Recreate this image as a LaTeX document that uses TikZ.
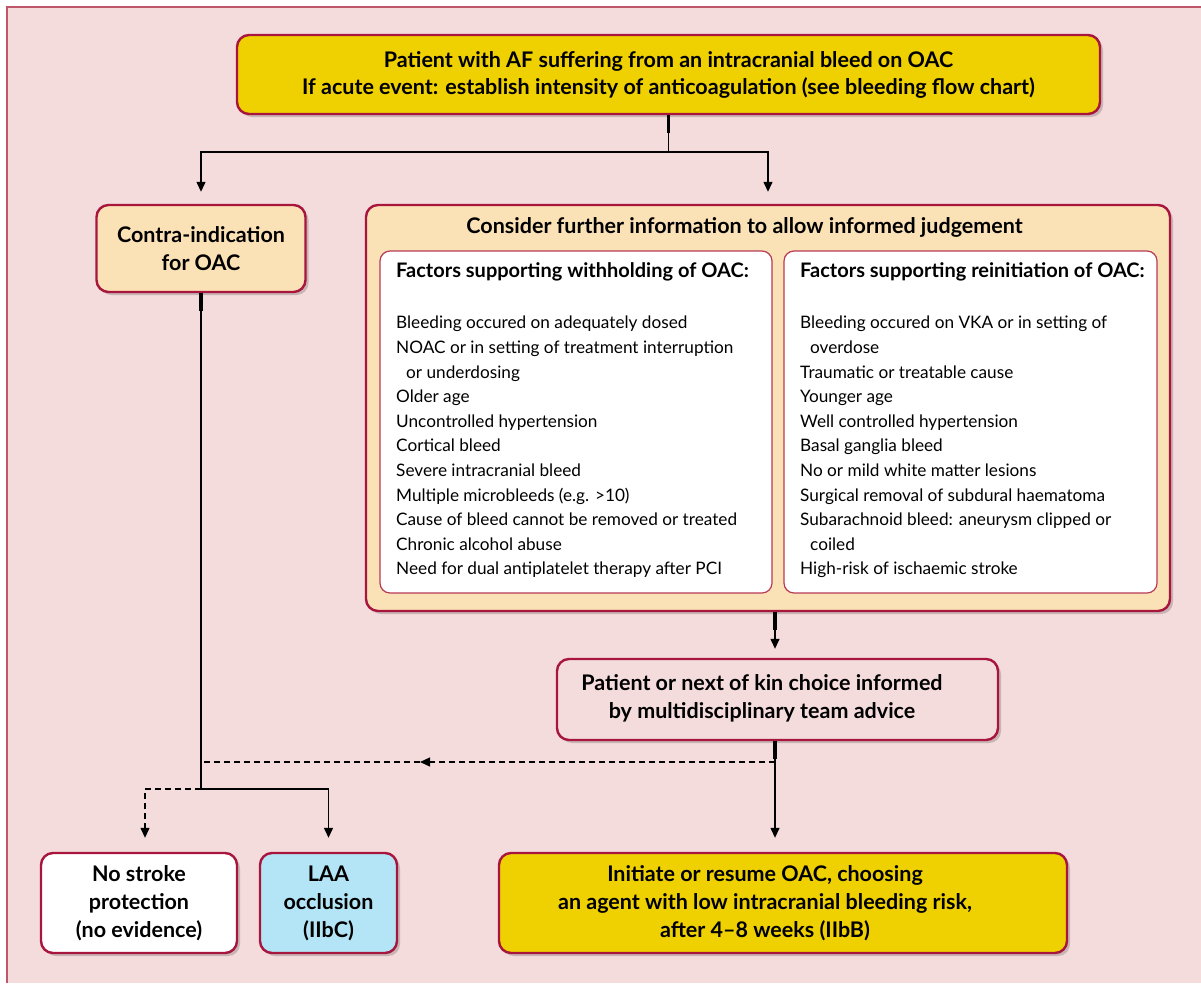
\documentclass[tikz,border=0pt]{standalone}
\usepackage{fontspec}
\setmainfont{Lato}
\usetikzlibrary{arrows.meta,shadows,calc}
\definecolor{bgpink}{HTML}{F4DCDD}
\definecolor{framecol}{HTML}{C0566A}
\definecolor{boxborder}{HTML}{A8163E}
\definecolor{ayellow}{HTML}{EFD000}
\definecolor{apeach}{HTML}{FAE1B6}
\definecolor{ablue}{HTML}{B3E5F6}
\definecolor{innerborder}{HTML}{B83A55}
\begin{document}
\begin{tikzpicture}[x=1pt,y=-1pt,
 box/.style={draw=boxborder, line width=2.4pt, rounded corners=12pt, inner sep=0pt,
   drop shadow={shadow xshift=3pt,shadow yshift=-3pt,opacity=0.18,fill=black}},
 inbox/.style={draw=innerborder, line width=1.2pt, fill=white, rounded corners=10pt, inner sep=0pt},
 btxt/.style={font=\fontsize{21.5}{27}\selectfont\bfseries, align=center, inner sep=0pt},
 btxtb/.style={btxt, font=\fontsize{21.5}{28}\selectfont\bfseries},
 head/.style={font=\fontsize{20}{24}\selectfont\bfseries, anchor=west, inner sep=0pt},
 body/.style={font=\fontsize{17.2}{24.6}\selectfont, align=left, anchor=north west, inner sep=0pt},
 conn/.style={line width=1.3pt},
 arr/.style={conn, -{Triangle[width=9pt,length=10pt]}},
 dconn/.style={conn, dash pattern=on 6pt off 4pt},
 stub/.style={line width=3.2pt}
]
\useasboundingbox (0,0) rectangle (1201,983);
\fill[bgpink] (7,7) rectangle (1201,983);
\draw[framecol, line width=1.8pt] (1201,7) -- (7,7) -- (7,983);

% boxes
\node[box, fill=ayellow, minimum width=863pt, minimum height=79pt] (top) at (668.5,74.5) {};
\node[btxt] (toptxt) at (top.center) {Patient with AF suffering from an intracranial bleed on OAC\\If acute event: establish intensity of anticoagulation (see bleeding flow chart)};

\node[box, fill=apeach, minimum width=209pt, minimum height=87pt] (contra) at (201,248.5) {};
\node[btxtb] (contratxt) at (contra.center) {Contra-indication\\for OAC};

\node[box, fill=apeach, minimum width=804pt, minimum height=406pt] (cons) at (768,408) {};
\node[btxt] (constxt) at (744.5,227) {Consider further information to allow informed judgement};

\node[inbox, minimum width=392pt, minimum height=342pt] (inl) at (576,422) {};
\node[inbox, minimum width=373pt, minimum height=342pt] (inr) at (970.5,422) {};

\node[head] (hl) at (396,272) {Factors supporting withholding of OAC:};
\node[head] (hr) at (800,272) {Factors supporting reinitiation of OAC:};

\node[body] (bl) at (396,316) {Bleeding occured on adequately dosed\\
NOAC or in setting of treatment interruption\\
\hspace*{10pt}or underdosing\\
Older age\\
Uncontrolled hypertension\\
Cortical bleed\\
Severe intracranial bleed\\
Multiple microbleeds (e.g. >10)\\
Cause of bleed cannot be removed or treated\\
Chronic alcohol abuse\\
Need for dual antiplatelet therapy after PCI};

\node[body] (br) at (800,316) {Bleeding occured on VKA or in setting of\\
\hspace*{10pt}overdose\\
Traumatic or treatable cause\\
Younger age\\
Well controlled hypertension\\
Basal ganglia bleed\\
No or mild white matter lesions\\
Surgical removal of subdural haematoma\\
Subarachnoid bleed: aneurysm clipped or\\
\hspace*{10pt}coiled\\
High-risk of ischaemic stroke};

\node[box, fill=bgpink, minimum width=441pt, minimum height=81pt] (pat) at (777.5,699.5) {};
\node[btxtb] (pattxt) at (762,698) {Patient or next of kin choice informed\\by multidisciplinary team advice};

\node[box, fill=white, minimum width=196pt, minimum height=100pt] (ns) at (139,903) {};
\node[btxtb] (nstxt) at (ns.center) {No stroke\\protection\\(no evidence)};

\node[box, fill=ablue, minimum width=137pt, minimum height=100pt] (laa) at (328.5,903) {};
\node[btxtb] (laatxt) at (laa.center) {LAA\\occlusion\\(IIbC)};

\node[box, fill=ayellow, minimum width=568pt, minimum height=100pt] (init) at (783,903) {};
\node[btxtb] (inittxt) at (765,903) {Initiate or resume OAC, choosing\\an agent with low intracranial bleeding risk,\\after 4--8 weeks (IIbB)};

% connectors
\coordinate (b1) at (668.5,152);
\coordinate (xm) at (775,0);
\coordinate (c1) at (201,789);
\coordinate (d1) at (775,762);
\coordinate (dmid) at (420,762);
\coordinate (nsa) at ($(ns.north)+(6,0)$);

\draw[stub] (top.south) -- ++(0,18);
\draw[conn] (top.south) -- (b1);
\draw[arr, shorten >=12pt] (b1) -| (contra.north);
\draw[arr, shorten >=12pt] (b1) -| (cons.north);

\draw[stub] (contra.south) -- ++(0,18);
\draw[conn] (contra.south) -- (c1);
\draw[arr, shorten >=14pt] (c1) -| (laa.north);
\draw[dconn, -{Triangle[width=9pt,length=10pt]}, shorten >=14pt] (c1) -| (nsa);

\draw[stub] (cons.south -| xm) -- ++(0,18);
\draw[arr, shorten >=9pt] (cons.south -| xm) -- (pat.north -| xm);

\draw[stub] (pat.south -| xm) -- ++(0,18);
\draw[arr, shorten >=14pt] (pat.south -| xm) -- (init.north -| xm);

\draw[dconn, -{Triangle[width=9pt,length=10pt]}] (d1) -- (dmid);
\draw[dconn] (dmid) -- (contra.south |- d1);
\end{tikzpicture}
\end{document}
